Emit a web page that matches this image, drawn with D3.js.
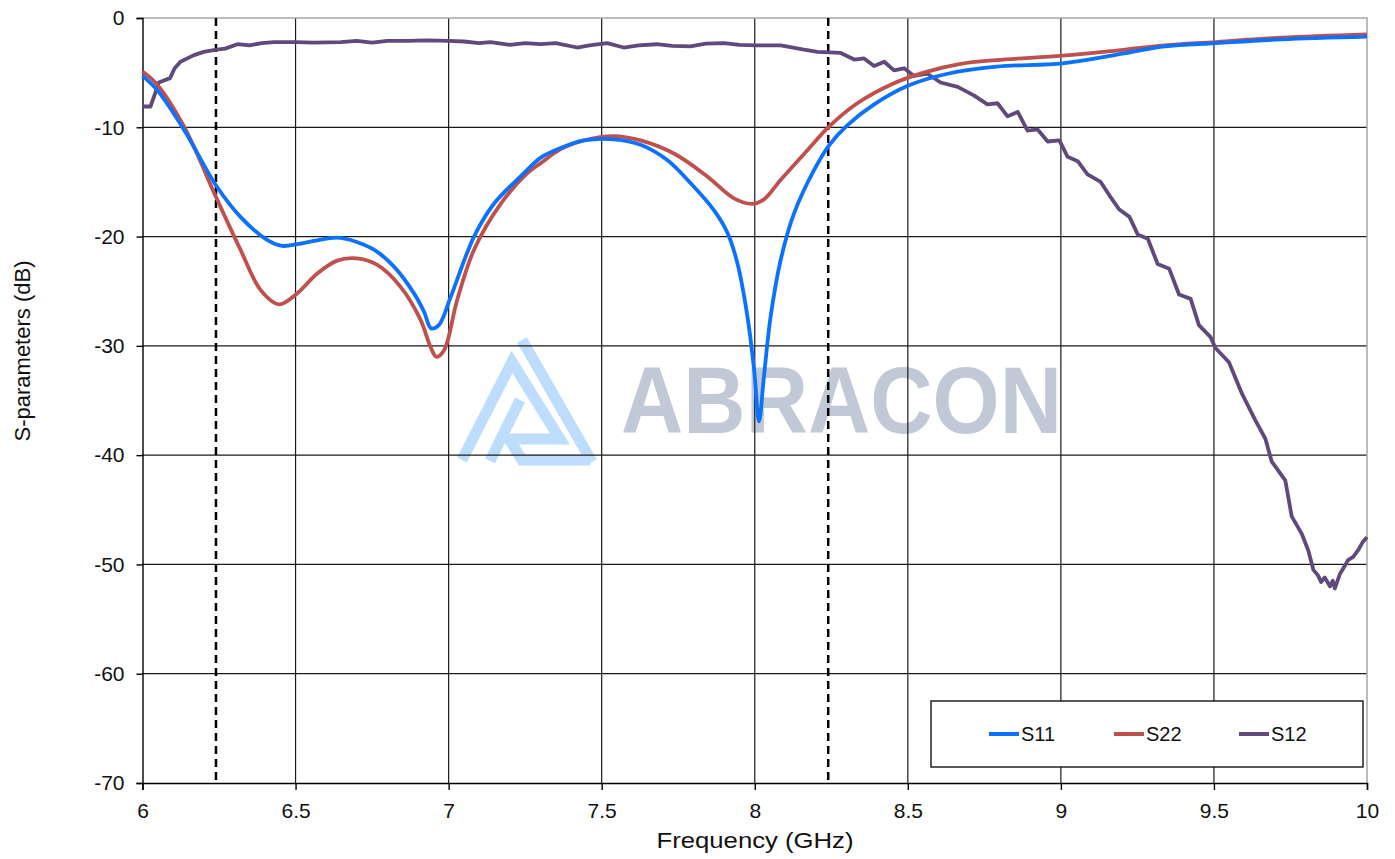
<!DOCTYPE html>
<html>
<head>
<meta charset="utf-8">
<script src="https://cdn.jsdelivr.net/npm/d3@7"></script>
<style>
  body { margin: 0; background: #fff; }
  svg text { font-family: "Liberation Sans", Arial, sans-serif; fill: #111; }
</style>
</head>
<body>
<div class="chart"></div>
<script>
// values: [frequency GHz, dB]
const s11 = [[6.0,-5.3],[6.048,-6.6],[6.135,-10.2],[6.242,-15.4],[6.32,-18.2],[6.407,-20.3],[6.456,-20.85],[6.505,-20.7],
  [6.56,-20.4],[6.636,-20.1],[6.69,-20.4],[6.756,-21.2],[6.82,-22.7],[6.887,-25.2],[6.92,-26.9],[6.943,-28.4],[6.968,-28.1],
  [7.007,-25.5],[7.083,-20.0],[7.148,-17.0],[7.246,-14.2],[7.30,-12.8],[7.366,-11.9],[7.442,-11.2],[7.54,-11.1],[7.627,-11.6],
  [7.714,-13.0],[7.79,-15.1],[7.867,-17.6],[7.91,-19.6],[7.943,-22.4],[7.976,-27.3],[7.998,-32.2],[8.014,-36.9],[8.03,-32.8],
  [8.052,-27.3],[8.085,-22.1],[8.128,-17.9],[8.194,-13.9],[8.244,-11.6],[8.303,-9.8],[8.39,-7.9],[8.5,-6.2],[8.63,-5.1],
  [8.79,-4.45],[9.006,-4.15],[9.175,-3.4],[9.339,-2.6],[9.507,-2.3],[9.72,-1.95],[10.0,-1.7]];

const s22 = [[6.0,-4.9],[6.048,-6.1],[6.135,-9.9],[6.242,-16.5],[6.32,-21.2],[6.386,-24.9],[6.446,-26.2],[6.505,-25.2],
  [6.57,-23.4],[6.636,-22.2],[6.70,-22.0],[6.767,-22.6],[6.843,-24.6],[6.908,-27.6],[6.941,-30.1],[6.96,-31.0],[6.985,-30.4],
  [7.028,-25.8],[7.083,-21.2],[7.17,-17.0],[7.257,-14.2],[7.30,-13.3],[7.366,-12.0],[7.442,-11.2],[7.54,-10.8],[7.627,-11.2],
  [7.736,-12.4],[7.845,-14.5],[7.932,-16.5],[7.992,-17.0],[8.03,-16.6],[8.085,-14.8],[8.172,-12.1],[8.244,-9.9],[8.335,-7.8],
  [8.444,-6.1],[8.552,-5.0],[8.672,-4.2],[8.79,-3.85],[9.006,-3.45],[9.175,-3.0],[9.339,-2.5],[9.507,-2.2],[9.72,-1.8],[10.0,-1.5]];

const s12 = [[6.0,-8.1],[6.026,-8.1],[6.04,-7.0],[6.053,-5.9],[6.09,-5.5],[6.105,-4.6],[6.124,-4.0],[6.168,-3.4],[6.2,-3.1],
  [6.242,-2.9],[6.27,-2.8],[6.31,-2.4],[6.35,-2.5],[6.39,-2.3],[6.43,-2.2],[6.5,-2.2],[6.56,-2.25],[6.647,-2.2],[6.7,-2.1],
  [6.75,-2.25],[6.8,-2.1],[6.865,-2.1],[6.93,-2.05],[7.0,-2.1],[7.05,-2.15],[7.1,-2.3],[7.137,-2.2],[7.2,-2.45],[7.25,-2.3],
  [7.3,-2.4],[7.35,-2.3],[7.42,-2.7],[7.46,-2.5],[7.518,-2.3],[7.572,-2.7],[7.62,-2.5],[7.68,-2.4],[7.73,-2.55],[7.79,-2.6],
  [7.84,-2.35],[7.9,-2.3],[7.95,-2.45],[8.003,-2.5],[8.085,-2.5],[8.161,-2.9],[8.205,-3.1],[8.281,-3.2],[8.325,-3.8],
  [8.357,-3.7],[8.39,-4.4],[8.423,-4.0],[8.455,-4.8],[8.488,-4.6],[8.52,-5.3],[8.564,-5.1],[8.607,-5.9],[8.663,-6.3],
  [8.717,-7.1],[8.76,-7.9],[8.793,-7.8],[8.826,-9.0],[8.859,-8.6],[8.891,-10.3],[8.924,-10.2],[8.957,-11.3],[8.995,-11.2],
  [9.022,-12.7],[9.055,-13.1],[9.087,-14.3],[9.13,-15.0],[9.159,-16.25],[9.19,-17.5],[9.224,-18.2],[9.251,-19.8],
  [9.284,-20.2],[9.316,-22.5],[9.354,-22.95],[9.386,-25.3],[9.424,-25.7],[9.451,-28.1],[9.489,-29.2],[9.505,-30.2],
  [9.549,-31.5],[9.592,-34.4],[9.635,-36.8],[9.668,-38.5],[9.689,-40.6],[9.733,-42.3],[9.754,-45.6],[9.787,-47.2],
  [9.808,-48.7],[9.825,-50.5],[9.84,-51.0],[9.85,-51.6],[9.862,-51.2],[9.879,-52.0],[9.888,-51.5],[9.895,-52.2],
  [9.911,-50.9],[9.93,-50.0],[9.938,-49.6],[9.955,-49.3],[9.971,-48.7],[9.985,-48.0],[10.0,-47.5]];

const xTicks = [6, 6.5, 7, 7.5, 8, 8.5, 9, 9.5, 10];
const yTicks = [0, -10, -20, -30, -40, -50, -60, -70];
const bandEdges = [6.24, 8.24];
const seriesNames = ["S11", "S22", "S12"];
const seriesColors = ["#0a72ff", "#c0504d", "#604a7b"];

// margin convention
const margin = ({top: 18, right: 28, bottom: 76, left: 142.5});
const width = 1395 - margin.left - margin.right;
const height = 859 - margin.top - margin.bottom;

const svg = d3.select(".chart")
    .append("svg")
    .attr("width", 1395)
    .attr("height", 859)
    .append("g")
    .attr("transform", `translate(${margin.left},${margin.top})`);

const xScale = d3.scaleLinear().domain([6, 10]).range([0, width]);
const yScale = d3.scaleLinear().domain([-70, 0]).range([height, 0]);

// watermark (under the grid)
const wm = svg.append("g").attr("transform", `translate(${-margin.left},${-margin.top})`);
wm.append("path")
    .attr("d", "M462,460 L512,362 L560,439 L509,439 L522,460 L590,460")
    .attr("fill", "none").attr("stroke", "#bedcfc").attr("stroke-width", 11)
    .attr("stroke-linejoin", "miter");
wm.append("path")
    .attr("d", "M522,340 L592,462 M520,400 L490,461")
    .attr("fill", "none").attr("stroke", "#bedcfc").attr("stroke-width", 11);
wm.append("text")
    .attr("x", 621).attr("y", 433)
    .attr("textLength", 441).attr("lengthAdjust", "spacingAndGlyphs")
    .attr("font-size", 95).attr("font-weight", "bold")
    .style("fill", "#c1c9d6")
    .text("ABRACON");

// grid
svg.append("g").selectAll("line")
    .data(xTicks.slice(1, -1))
    .join("line")
    .attr("x1", d => xScale(d)).attr("x2", d => xScale(d))
    .attr("y1", 0).attr("y2", height)
    .attr("stroke", "#1a1a1a").attr("stroke-width", 1.2);

svg.append("g").selectAll("line")
    .data(yTicks.slice(1, -1))
    .join("line")
    .attr("x1", 0).attr("x2", width)
    .attr("y1", d => yScale(d)).attr("y2", d => yScale(d))
    .attr("stroke", "#1a1a1a").attr("stroke-width", 1.2);

// frame top + right (grey)
svg.append("path")
    .attr("d", `M0,0 H${width} V${height}`)
    .attr("fill", "none").attr("stroke", "#a6a6a6").attr("stroke-width", 1.5);

// band edge markers
svg.append("g").selectAll("line")
    .data(bandEdges)
    .join("line")
    .attr("x1", d => xScale(d)).attr("x2", d => xScale(d))
    .attr("y1", 0).attr("y2", height)
    .attr("stroke", "#000").attr("stroke-width", 2.5)
    .attr("stroke-dasharray", "8,5");

// axes (plain hyphen for negatives, like the original)
const xAxis = d3.axisBottom(xScale).tickValues(xTicks).tickSize(7).tickPadding(13).tickFormat(d => String(d));
const yAxis = d3.axisLeft(yScale).tickValues(yTicks).tickSize(6).tickPadding(12).tickFormat(d => String(d));

svg.append("g")
    .attr("transform", `translate(0,${height})`)
    .call(xAxis)
    .call(g => g.selectAll("line, path").attr("stroke", "#000").attr("stroke-width", 1.4))
    .call(g => g.selectAll("text").attr("font-size", 21).style("font-family", "Liberation Sans, Arial").attr("fill", "#111"));

svg.append("g")
    .call(yAxis)
    .call(g => g.selectAll("line, path").attr("stroke", "#000").attr("stroke-width", 1.4))
    .call(g => g.selectAll("text").attr("font-size", 21).style("font-family", "Liberation Sans, Arial").attr("fill", "#111"));

// axis titles
svg.append("text")
    .attr("x", 755 - margin.left).attr("y", 848 - margin.top)
    .attr("text-anchor", "middle")
    .attr("font-size", 22)
    .attr("textLength", 197).attr("lengthAdjust", "spacingAndGlyphs")
    .text("Frequency (GHz)");

svg.append("text")
    .attr("transform", `translate(${30 - margin.left},${351 - margin.top}) rotate(-90)`)
    .attr("text-anchor", "middle")
    .attr("font-size", 22)
    .text("S-parameters (dB)");

// curves
const smooth = d3.line().x(d => xScale(d[0])).y(d => yScale(d[1])).curve(d3.curveCatmullRom.alpha(0.5));
const rough = d3.line().x(d => xScale(d[0])).y(d => yScale(d[1]));

const curves = [
  {data: s12, line: rough, color: seriesColors[2]},
  {data: s22, line: smooth, color: seriesColors[1]},
  {data: s11, line: smooth, color: seriesColors[0]}
];
curves.forEach(c => {
  svg.append("path")
      .datum(c.data)
      .attr("fill", "none")
      .attr("stroke", c.color)
      .attr("stroke-width", 3.8)
      .attr("stroke-linejoin", "round")
      .attr("d", c.line);
});

// legend
const legend = svg.append("g").attr("transform", `translate(${931 - margin.left},${701 - margin.top})`);
legend.append("rect")
    .attr("width", 432).attr("height", 66)
    .attr("fill", "#fff").attr("stroke", "#000").attr("stroke-width", 1.3);
const legendX = [58, 183, 308];
seriesNames.forEach((name, i) => {
  legend.append("line")
      .attr("x1", legendX[i]).attr("x2", legendX[i] + 30)
      .attr("y1", 33).attr("y2", 33)
      .attr("stroke", seriesColors[i]).attr("stroke-width", 4);
  legend.append("text")
      .attr("x", legendX[i] + 32).attr("y", 40)
      .attr("font-size", 20)
      .text(name);
});
</script>
</body>
</html>
